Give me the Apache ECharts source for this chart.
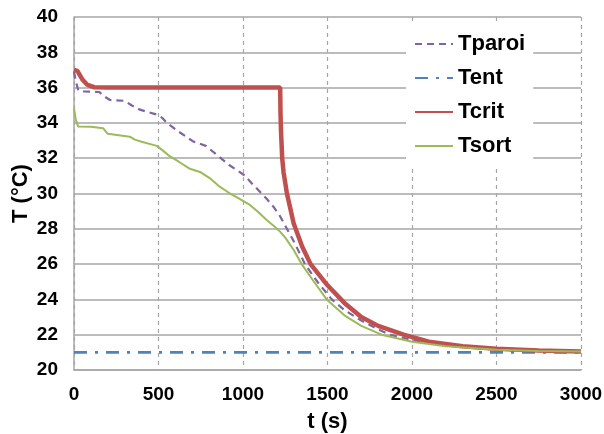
<!DOCTYPE html>
<html>
<head>
<meta charset="utf-8">
<script src="https://cdn.jsdelivr.net/npm/echarts@6/dist/echarts.min.js"></script>
<style>html,body{margin:0;padding:0;background:#fff}#c{width:604px;height:434px}</style>
</head>
<body>
<div id="c"></div>
<script>
// Time ticks
const xTicks = [0, 500, 1000, 1500, 2000, 2500, 3000];
const yTicks = [20, 22, 24, 26, 28, 30, 32, 34, 36, 38, 40];

// Tparoi
const tParoi = [0, 10, 25, 60, 150, 180, 213, 300, 340, 390, 480, 520, 550, 620, 705, 780, 844, 920, 1006, 1050, 1100, 1140, 1180, 1220, 1260, 1300, 1367, 1440, 1525, 1600, 1700, 1800, 1870, 2000, 2200, 2500, 2750, 3000];
const vParoi = [36.9, 36.4, 35.85, 35.78, 35.75, 35.5, 35.3, 35.25, 35.0, 34.75, 34.5, 34.3, 34.0, 33.5, 32.95, 32.7, 32.2, 31.6, 31.05, 30.6, 30.1, 29.7, 29.25, 28.7, 28.0, 27.3, 26.0, 25.0, 24.0, 23.4, 22.8, 22.3, 22.0, 21.7, 21.4, 21.15, 21.08, 21.04];

// Tent
const tEnt = [0, 3000];
const vEnt = [21, 21];

// Tcrit
const tCrit = [0, 20, 50, 80, 120, 200, 1220, 1222, 1225, 1232, 1240, 1260, 1300, 1350, 1400, 1500, 1600, 1700, 1800, 1950, 2100, 2300, 2500, 2750, 3000];
const vCrit = [37.0, 36.95, 36.45, 36.15, 36.02, 36.0, 36.0, 34.5, 33.5, 32.0, 31.2, 30.0, 28.3, 27.0, 26.0, 24.8, 23.8, 23.0, 22.5, 22.0, 21.6, 21.35, 21.2, 21.1, 21.05];

// Tsort
const tSort = [0, 10, 25, 100, 172, 200, 330, 360, 400, 490, 530, 568, 620, 686, 750, 805, 860, 923, 980, 1041, 1090, 1140, 1190, 1219, 1250, 1300, 1347, 1420, 1495, 1600, 1700, 1820, 2000, 2200, 2500, 2750, 3000];
const vSort = [34.83, 34.2, 33.79, 33.78, 33.7, 33.38, 33.22, 33.05, 32.93, 32.7, 32.4, 32.1, 31.8, 31.4, 31.2, 30.86, 30.4, 30.0, 29.7, 29.35, 28.95, 28.5, 28.1, 27.84, 27.5, 26.8, 26.0, 25.0, 24.0, 23.1, 22.5, 22.0, 21.6, 21.35, 21.15, 21.08, 21.05];

const zip = (a, b) => a.map((t, i) => [t, b[i]]);
const FONT = '"Liberation Sans", Arial, sans-serif';

const chart = echarts.init(document.getElementById('c'), null, {renderer: 'canvas'});
chart.setOption({
  animation: false,
  backgroundColor: '#fff',
  grid: {left: 74, right: 23, top: 17, bottom: 64, containLabel: false, outerBoundsMode: 'none'},
  xAxis: {
    type: 'value', min: 0, max: 3000, interval: 500,
    name: 't (s)', nameLocation: 'middle', nameGap: 41,
    nameTextStyle: {fontFamily: FONT, fontWeight: 'bold', fontSize: 22, color: '#000'},
    axisLine: {show: true, lineStyle: {color: '#A6A6A6', width: 1.5}},
    axisTick: {show: false},
    axisLabel: {fontFamily: FONT, fontWeight: 'bold', fontSize: 19, color: '#000', margin: 15,
                formatter: v => String(v)},
    splitLine: {show: true, lineStyle: {color: '#A6A6A6', type: [4, 4], width: 1.2}}
  },
  yAxis: {
    type: 'value', min: 20, max: 40, interval: 2,
    name: 'T (°C)', nameLocation: 'middle', nameGap: 42, nameRotate: 90, nameMoveOverlap: false,
    nameTextStyle: {fontFamily: FONT, fontWeight: 'bold', fontSize: 22, color: '#000'},
    axisLine: {show: true, lineStyle: {color: '#A6A6A6', width: 1.5}},
    axisTick: {show: false},
    axisLabel: {fontFamily: FONT, fontWeight: 'bold', fontSize: 19, color: '#000', margin: 16,
                formatter: v => String(v)},
    splitLine: {show: true, lineStyle: {color: '#A6A6A6', width: 1.5}}
  },
  legend: {
    orient: 'vertical', left: 406, top: 22,
    backgroundColor: '#fff',
    padding: [11, 8, 8, 8],
    itemWidth: 38, itemHeight: 14, itemGap: 12,
    itemStyle: {opacity: 0},
    textStyle: {fontFamily: FONT, fontWeight: 'bold', fontSize: 22, color: '#000', lineHeight: 22},
    data: ['Tparoi', 'Tent', 'Tcrit', 'Tsort']
  },
  series: [
    {name: 'Tparoi', type: 'line', data: zip(tParoi, vParoi), showSymbol: false, symbol: 'none',
     color: '#8064A2', lineStyle: {color: '#8064A2', width: 2.2, type: [7, 5]}, z: 3},
    {name: 'Tent', type: 'line', data: zip(tEnt, vEnt), showSymbol: false, symbol: 'none',
     color: '#4F81BD', lineStyle: {color: '#4F81BD', width: 2.8, type: [13, 8, 3, 8]}, z: 2},
    {name: 'Tcrit', type: 'line', data: zip(tCrit, vCrit), showSymbol: false, symbol: 'none',
     color: '#C0504D', lineStyle: {color: '#C0504D', width: 4.5}, z: 4},
    {name: 'Tsort', type: 'line', data: zip(tSort, vSort), showSymbol: false, symbol: 'none',
     color: '#9BBB59', lineStyle: {color: '#9BBB59', width: 2}, z: 5}
  ]
});
</script>
</body>
</html>
